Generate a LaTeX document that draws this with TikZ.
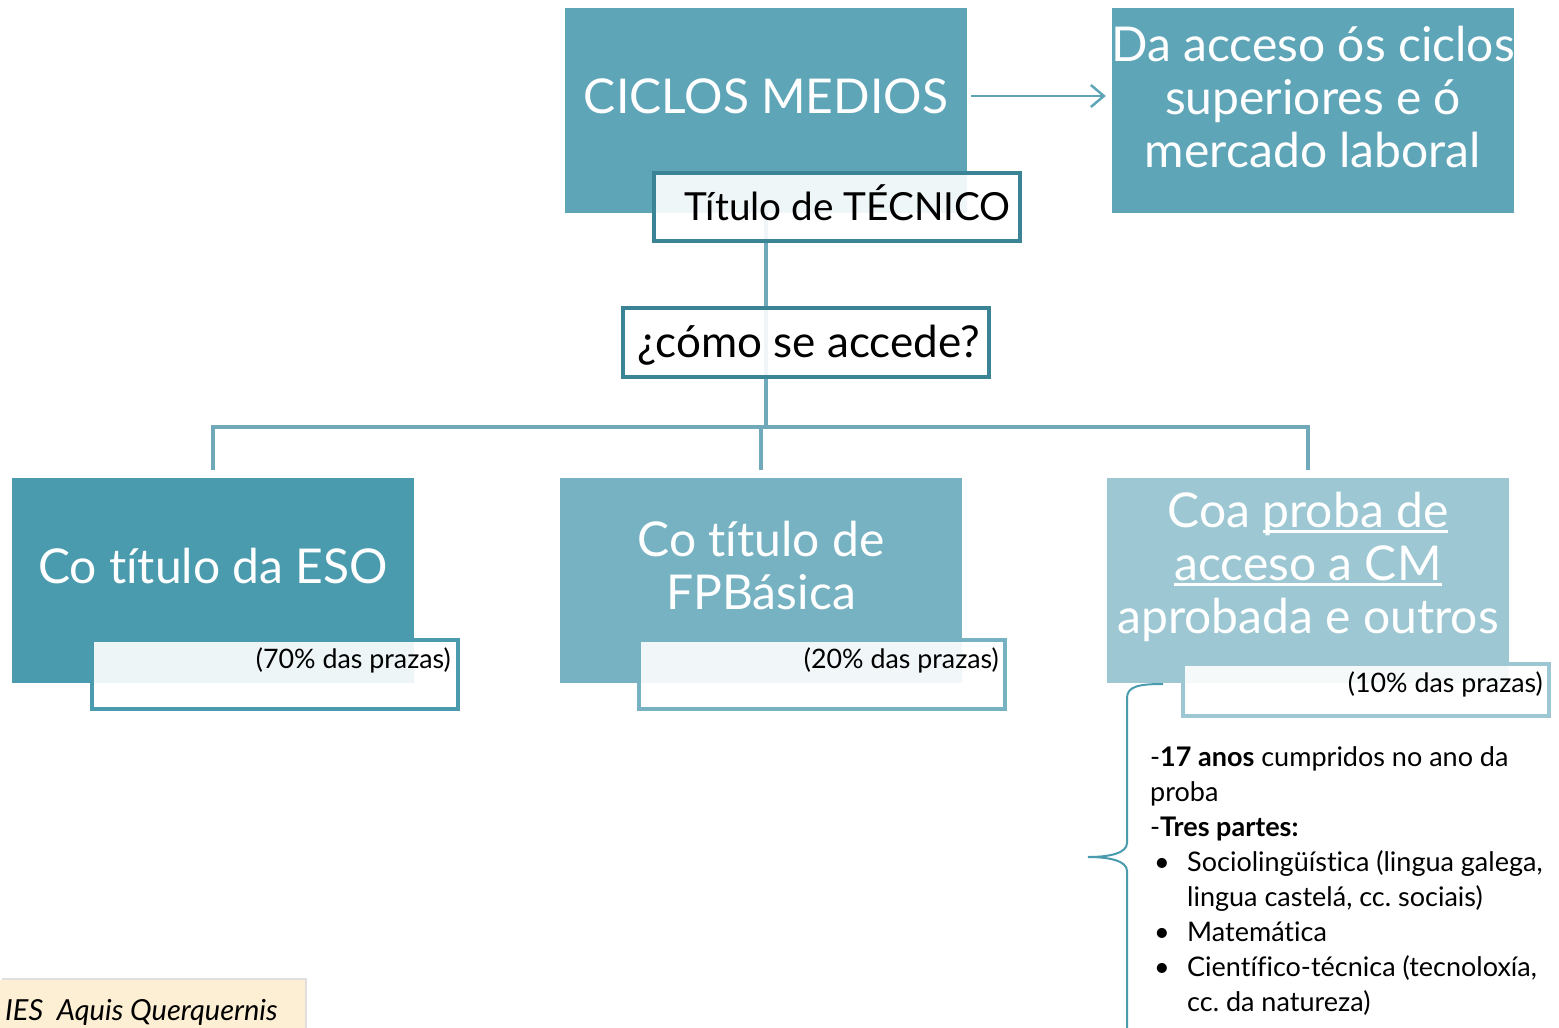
\documentclass[tikz,border=0pt]{standalone}
\usepackage{fontspec}
\setmainfont{Lato}[Ligatures=NoCommon]
\usetikzlibrary{arrows.meta,shadows}
\definecolor{cTop}{HTML}{5FA5B8}
\definecolor{cEso}{HTML}{4B9BAF}
\definecolor{cFpb}{HTML}{76B2C2}
\definecolor{cPro}{HTML}{9DC8D3}
\definecolor{cDark}{HTML}{3A8496}
\definecolor{cLine}{HTML}{6FA9BA}
\definecolor{cCream}{HTML}{FDEFD3}
\newcommand\myul[1]{\setbox0\hbox{#1}\leavevmode\rlap{\rule[-5pt]{\wd0}{2.2pt}}\box0}
\newcommand\bul{\makebox[37pt][l]{\hspace{4pt}•}}
\frenchspacing
\begin{document}
\begin{tikzpicture}[x=1pt,y=-1pt,
  bigbox/.style={rectangle, inner sep=0pt, minimum width=402pt, minimum height=205pt},
  bigtext/.style={text=white, align=center, inner sep=0pt, font=\fontsize{48}{53}\selectfont},
  subbox/.style={rectangle, line width=4pt, fill=white, fill opacity=0.9, inner sep=0pt, minimum width=366pt},
  qbox/.style={subbox, draw=cDark, minimum height=68pt},
  smalltext/.style={text=black, inner sep=0pt, font=\fontsize{26.8}{30}\selectfont},
  midtext/.style={text=black, inner sep=0pt, font=\fontsize{38.7}{42}\selectfont},
  conn/.style={draw=cLine, line width=4pt},
]
\useasboundingbox (0,0) rectangle (1559,1028);

% connectors (behind boxes)
\coordinate (j) at (766,427);
\node[bigbox, fill=cTop] (top) at (766,110.5) {};
\draw[conn] (top.south) -- (j);

% top row
\node[bigtext] (topT) at (766,96) {CICLOS MEDIOS};
\node[bigbox, fill=cTop] (rgt) at (1313,110.5) {};
\node[bigtext] (rgtT) at (1313,97) {Da acceso ós ciclos\\superiores e ó\\mercado laboral};
\draw[draw=cTop, line width=2.5pt, shorten <=4pt, shorten >=6pt, -{Straight Barb[length=13pt,width=22pt,line width=2.5pt]}] (top.east |- topT) -- (rgt.west |- topT);

\node[qbox, minimum height=68pt] (tit) at (836.5,206.5) {};
\node[midtext, anchor=base east] (titT) at (1011,220) {Título de TÉCNICO};

\node[qbox, minimum height=69pt] (acc) at (806,342.5) {};
\node[midtext, anchor=base, font=\fontsize{44}{48}\selectfont] (accT) at (809,357) {¿cómo se accede?};

% bottom row
\node[bigbox, fill=cEso] (eso) at (213,580.5) {};
\node[bigbox, fill=cFpb] (fpb) at (761,580.5) {};
\node[bigbox, fill=cPro] (pro) at (1308,580.5) {};
\draw[conn] ([yshift=8pt]eso.north) |- (j) -| ([yshift=8pt]pro.north);
\draw[conn] (j -| fpb.north) -- ([yshift=8pt]fpb.north);

\node[bigtext] (esoT) at (213,566) {Co título da ESO};
\node[bigtext] (fpbT) at (761,566) {Co título de\\FPBásica};
\node[bigtext] (proT) at (1308,567) {Coa \myul{proba de}\\\myul{acceso a CM}\\aprobada e outros};

\node[subbox, draw=cEso, minimum height=69pt] (s70) at (274.5,674) {};
\node[smalltext, anchor=base east] (s70T) at (451,668) {(70\% das prazas)};
\node[subbox, draw=cFpb, minimum height=69pt] (s20) at (822,674) {};
\node[smalltext, anchor=base east] (s20T) at (999,668) {(20\% das prazas)};
\node[subbox, draw=cPro, minimum height=52pt] (s10) at (1365.5,689.5) {};
\node[smalltext, anchor=base east] (s10T) at (1543,692) {(10\% das prazas)};

% brace
\coordinate (b0) at (1163,684);
\coordinate (btip) at (1088,857);
\coordinate (bend) at (1127,1032);
\draw[draw=cEso, line width=2pt] (b0) .. controls (1140,684) and (1127,686) .. (1127,698)
  -- (1127,843) .. controls (1127,853) and (1110,857) .. (btip)
  .. controls (1110,857) and (1127,861) .. (1127,871) -- (bend);

% requirements text
\node[anchor=north west, inner sep=0pt, align=left, text=black,
  font=\fontsize{27}{35}\selectfont] (req) at (1150,746)
 {-\textbf{17 anos} cumpridos no ano da\\
  proba\\
  -\textbf{Tres partes:}\\
  \bul Sociolingüística (lingua galega,\\
  \hspace{37pt}lingua castelá, cc. sociais)\\
  \bul Matemática\\
  \bul Científico-técnica (tecnoloxía,\\
  \hspace{37pt}cc. da natureza)};

% footer
\node[anchor=north west, fill=cCream, minimum width=305pt, minimum height=50pt, inner sep=0pt,
  drop shadow={shadow xshift=2pt, shadow yshift=2pt, opacity=0.25}] (ies) at (0,980) {};
\node[anchor=base west, inner sep=0pt, font=\fontsize{29}{32}\selectfont\itshape] (iesT) at (5,1020) {IES\ \ Aquis Querquernis};
\end{tikzpicture}
\end{document}
